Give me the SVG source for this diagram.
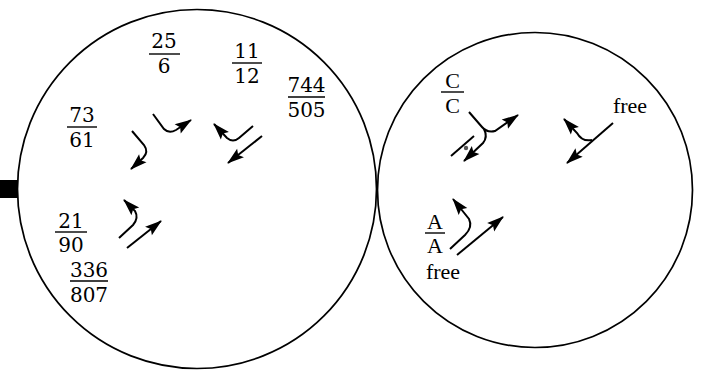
<svg xmlns="http://www.w3.org/2000/svg" width="704" height="370" viewBox="0 0 704 370">
<style>
.circ{fill:none;stroke:#000;stroke-width:1.7}
.num{font-family:"DejaVu Serif",serif;font-size:20px;text-anchor:middle;fill:#000}
.let{font-family:"Liberation Serif",serif;font-size:22px;text-anchor:middle;fill:#000}
.bar{stroke:#000;stroke-width:1.4}
.c{fill:none;stroke:#000;stroke-width:2}
.a{marker-end:url(#ah)}
</style>
<defs>
<marker id="ah" markerUnits="userSpaceOnUse" viewBox="0 0 18 12" markerWidth="18" markerHeight="12" refX="16" refY="6" orient="auto" overflow="visible">
<path d="M0,0.5 L17,6 L0,11.5 L3,6 z" fill="#000"/>
</marker>
</defs>
<rect x="0" y="180" width="18" height="18" fill="#000"/>
<g id="left-circle"><circle class="circ" cx="197" cy="189" r="179.5"/></g>
<g id="right-circle"><circle class="circ" cx="535" cy="190" r="157.5"/></g>
<g id="f25-6"><text class="num" x="164" y="48">25</text><line class="bar" x1="149" y1="54" x2="180" y2="54"/><text class="num" x="164" y="73">6</text></g>
<g id="f11-12"><text class="num" x="247" y="58">11</text><line class="bar" x1="232" y1="63" x2="262" y2="63"/><text class="num" x="247" y="83">12</text></g>
<g id="f744-505"><text class="num" x="306.5" y="92">744</text><line class="bar" x1="288" y1="97" x2="325" y2="97"/><text class="num" x="306.5" y="117">505</text></g>
<g id="f73-61"><text class="num" x="82" y="122">73</text><line class="bar" x1="67" y1="127" x2="97" y2="127"/><text class="num" x="82" y="147">61</text></g>
<g id="f21-90"><text class="num" x="71" y="228">21</text><line class="bar" x1="55" y1="232" x2="87" y2="232"/><text class="num" x="71" y="252">90</text></g>
<g id="f336-807"><text class="num" x="89" y="277">336</text><line class="bar" x1="70" y1="281" x2="108" y2="281"/><text class="num" x="89" y="302">807</text></g>
<g id="fC-C"><text class="let" x="452.5" y="88">C</text><line class="bar" x1="441" y1="92" x2="464" y2="92"/><text class="let" x="452.5" y="113">C</text></g>
<g id="fA-A"><text class="let" x="435" y="229">A</text><line class="bar" x1="425" y1="233" x2="445" y2="233"/><text class="let" x="435" y="253">A</text></g>
<g id="free1"><text class="let" x="443" y="279">free</text></g>
<g id="free2"><text class="let" x="630" y="113">free</text></g>
<g id="connectors">
<path class="c a" d="M132,131 L144,145 Q149,152 143,158 L131,169"/>
<path class="c a" d="M153,114 L164,129 Q169,134 176,130 L191,120"/>
<path class="c a" d="M253,126 L239,138 Q233,143 227,138 L214,124"/>
<path class="c a" d="M262,136 L228,163"/>
<path class="c a" d="M119,238 L133,225 Q139,218 135,211 L124,200"/>
<path class="c a" d="M127,248 L161,221"/>
<path class="c a" d="M469,112 L482,127 Q487,133 495,131 L518,115"/>
<path class="c a" d="M484,129 Q488,137 483,143 L464,161"/>
<path class="c" d="M451,156 L474,136"/>
<circle cx="466" cy="148" r="2.2" fill="#555"/>
<path class="c a" d="M613,123 L567,163"/>
<path class="c a" d="M592,140 Q582,142 577,133 L564,119"/>
<path class="c a" d="M450,249 L465,235 Q473,227 469,219 L453,199"/>
<path class="c a" d="M457,255 L503,217"/>
</g>
</svg>
